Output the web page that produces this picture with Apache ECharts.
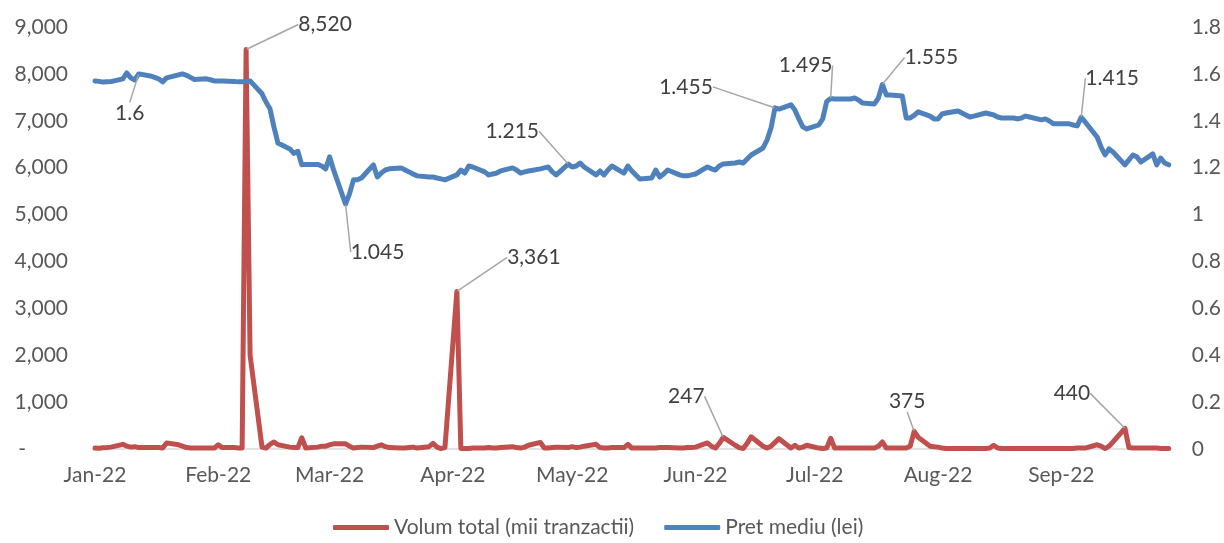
<!DOCTYPE html>
<html><head><meta charset="utf-8">
<script src="https://cdn.jsdelivr.net/npm/echarts@6/dist/echarts.min.js"></script>
<style>html,body{margin:0;padding:0;background:#fff}#c{width:1224px;height:543px}</style>
</head><body><div id="c"></div>
<script>
// ---- data (trading days, Mon-Fri, 3 Jan 2022 .. 30 Sep 2022) ----
const firstDay = '2022-01-03';
const lastDay = '2022-09-30';
const seriesNames = ['Volum total (mii tranzactii)', 'Pret mediu (lei)'];
const monthNames = ['Jan','Feb','Mar','Apr','May','Jun','Jul','Aug','Sep','Oct','Nov','Dec'];

const volume = [
  20,15,25,30,40,  100,60,40,50,30,  30,30,30,20,130,  90,60,30,20,20,  20,20,20,90,30,
  30,20,20,8520,2000,  40,20,100,150,90,  40,30,30,240,20,  40,60,60,90,110,
  110,60,20,30,40,  30,60,90,50,30,  20,20,30,40,20,  50,120,40,10,30,
  3361,10,10,10,20,  20,30,20,20,30,  50,30,20,40,80,  140,20,20,30,40,
  30,50,30,40,60,  100,30,20,20,30,  30,100,20,20,20,  20,20,30,30,30,  20,20,30,30,40,
  130,60,20,120,247,  80,30,10,120,260,  60,20,60,140,220,  20,80,20,40,80,
  20,10,20,230,20,  20,20,20,20,20,  20,60,150,20,20,  20,20,60,375,250,
  60,50,40,20,10,  10,10,10,10,10,  10,20,80,20,10,  10,10,10,10,10,  10,10,10,10,10,
  10,10,20,20,20,  90,60,10,60,150,  440,30,20,20,20,  20,20,10,10,10
];

const price = [
  1.570,1.568,1.565,1.566,1.567,  1.579,1.604,1.583,1.574,1.6,  1.591,1.585,1.579,1.566,1.583,
  1.596,1.600,1.594,1.585,1.576,  1.579,1.575,1.570,1.570,1.570,
  1.568,1.566,1.566,1.568,1.570,  1.515,1.480,1.451,1.374,1.305,  1.280,1.261,1.270,1.212,1.214,
  1.214,1.207,1.195,1.246,1.190,
  1.045,1.088,1.148,1.148,1.156,  1.212,1.160,1.177,1.190,1.195,  1.199,1.190,1.182,1.173,1.165,
  1.160,1.160,1.156,1.152,1.148,
  1.169,1.190,1.177,1.207,1.203,  1.182,1.169,1.173,1.177,1.186,  1.199,1.190,1.177,1.182,1.186,
  1.195,1.199,1.203,1.182,1.169,
  1.215,1.203,1.207,1.220,1.203,  1.169,1.186,1.169,1.190,1.207,  1.177,1.207,1.186,1.169,1.152,
  1.156,1.190,1.160,1.173,1.190,  1.169,1.165,1.165,1.169,1.173,
  1.203,1.195,1.190,1.207,1.216,  1.220,1.224,1.220,1.237,1.254,  1.284,1.318,1.369,1.455,1.450,
  1.468,1.446,1.408,1.374,1.365,
  1.382,1.408,1.482,1.495,1.493,  1.493,1.493,1.497,1.489,1.476,  1.472,1.497,1.555,1.510,1.510,
  1.506,1.412,1.412,1.423,1.438,
  1.420,1.408,1.408,1.429,1.433,  1.442,1.433,1.425,1.416,1.420,  1.433,1.429,1.425,1.416,1.412,
  1.412,1.408,1.412,1.420,1.416,  1.404,1.408,1.399,1.387,1.387,
  1.387,1.382,1.378,1.415,1.395,  1.331,1.288,1.254,1.280,1.267,  1.212,1.233,1.254,1.246,1.224,
  1.259,1.212,1.241,1.220,1.212
];

// trading-day indices that carry a data label
const volumeLabelIdx = [28, 65, 114, 148, 185];
const priceLabelIdx = [9, 45, 85, 123, 133, 142, 178];

const leftAxisTicks = { min: 0, max: 9000, interval: 1000 };
const rightAxisTicks = { min: 0, max: 1.8, interval: 0.2 };

// label placement (dx, dy from the point), same order as the index lists
const volumeLabelOffsets = [[79,-25],[77,-34],[-37,-41],[-7,-30],[-53,-35]];
const priceLabelOffsets = [[-9,39],[32,48],[-56,-33],[-89,-21],[-25,-33],[49,-27],[31,-39]];

// ---- build calendar category axis and map trading-day values ----
const days = [];
const volData = [];
const priceData = [];
const offsets = [{}, {}];
let t = Date.parse(firstDay + 'T00:00:00Z');
const tEnd = Date.parse(lastDay + 'T00:00:00Z');
let k = 0;
while (t <= tEnd) {
  const d = new Date(t);
  const iso = d.toISOString().slice(0, 10);
  const wd = d.getUTCDay();
  const ci = days.length;
  days.push(iso);
  if (wd >= 1 && wd <= 5 && k < volume.length) {
    let vi = volumeLabelIdx.indexOf(k);
    let pi = priceLabelIdx.indexOf(k);
    volData.push(vi >= 0 ? { value: volume[k], label: { show: true } } : volume[k]);
    priceData.push(pi >= 0 ? { value: price[k], label: { show: true } } : price[k]);
    if (vi >= 0) offsets[0][ci] = volumeLabelOffsets[vi];
    if (pi >= 0) offsets[1][ci] = priceLabelOffsets[pi];
    k++;
  } else {
    volData.push(null);
    priceData.push(null);
  }
  t += 86400000;
}

const FONT = 'Lato';
const chart = echarts.init(document.getElementById('c'), null, { renderer: 'canvas' });

const labelCommon = {
  position: 'inside',
  color: '#404040',
  fontFamily: FONT,
  fontSize: 21,
  padding: [0, 6, 0, 6]
};
const labelLineCommon = { show: true, lineStyle: { color: '#A6A6A6', width: 1.5 } };

chart.setOption({
  animation: false,
  backgroundColor: '#ffffff',
  grid: { left: 95, right: 54, top: 27, bottom: 94 },
  legend: {
    data: seriesNames,
    left: 328,
    top: 512,
    icon: 'roundRect',
    itemWidth: 56,
    itemHeight: 5,
    itemGap: 30,
    textStyle: { color: '#595959', fontFamily: FONT, fontSize: 21 }
  },
  xAxis: {
    type: 'category',
    data: days,
    boundaryGap: false,
    axisLine: { lineStyle: { color: '#D9D9D9', width: 1.5 } },
    axisTick: { show: false },
    splitLine: { show: false },
    axisLabel: {
      interval: function (i, v) { return v.slice(8, 10) === '03'; },
      formatter: function (v) { return monthNames[+v.slice(5, 7) - 1] + '-' + v.slice(2, 4); },
      color: '#595959',
      fontFamily: FONT,
      fontSize: 21,
      margin: 16
    }
  },
  yAxis: [
    {
      type: 'value',
      min: leftAxisTicks.min, max: leftAxisTicks.max, interval: leftAxisTicks.interval,
      axisLine: { show: false }, axisTick: { show: false }, splitLine: { show: false },
      axisLabel: {
        color: '#595959', fontFamily: FONT, fontSize: 21, margin: 27,
        formatter: function (v) { return v === 0 ? '{d|-}' : v.toLocaleString('en-US'); },
        rich: { d: { color: '#595959', fontFamily: FONT, fontSize: 21, padding: [0, 42, 0, 0] } }
      }
    },
    {
      type: 'value',
      min: rightAxisTicks.min, max: rightAxisTicks.max, interval: rightAxisTicks.interval,
      position: 'right',
      axisLine: { show: false }, axisTick: { show: false }, splitLine: { show: false },
      axisLabel: {
        color: '#595959', fontFamily: FONT, fontSize: 21, margin: 23,
        formatter: function (v) { return String(+v.toFixed(1)); }
      }
    }
  ],
  series: [
    {
      name: seriesNames[0],
      type: 'line',
      yAxisIndex: 0,
      data: volData,
      connectNulls: true,
      symbol: 'circle', symbolSize: 1, showSymbol: true, showAllSymbol: true,
      itemStyle: { color: '#C0504D' },
      lineStyle: { color: '#C0504D', width: 5, cap: 'round', join: 'round' },
      emphasis: { disabled: true },
      label: Object.assign({}, labelCommon, {
        formatter: function (p) { return Number(p.value).toLocaleString('en-US'); }
      }),
      labelLine: labelLineCommon,
      labelLayout: function (p) {
        const o = offsets[0][p.dataIndex];
        return o ? { dx: o[0], dy: o[1] } : {};
      },
      z: 2
    },
    {
      name: seriesNames[1],
      type: 'line',
      yAxisIndex: 1,
      data: priceData,
      connectNulls: true,
      symbol: 'circle', symbolSize: 1, showSymbol: true, showAllSymbol: true,
      itemStyle: { color: '#4F81BD' },
      lineStyle: { color: '#4F81BD', width: 5, cap: 'round', join: 'round' },
      emphasis: { disabled: true },
      label: Object.assign({}, labelCommon, {
        formatter: function (p) { return String(p.value); }
      }),
      labelLine: labelLineCommon,
      labelLayout: function (p) {
        const o = offsets[1][p.dataIndex];
        return o ? { dx: o[0], dy: o[1] } : {};
      },
      z: 3
    }
  ]
});
</script>
</body></html>
